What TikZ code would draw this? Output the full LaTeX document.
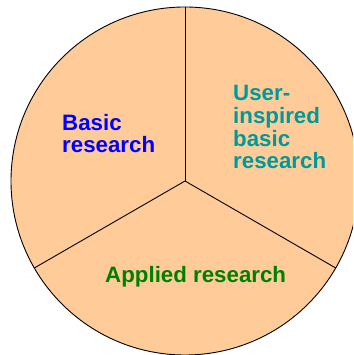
\documentclass[tikz,border=0pt]{standalone}
\usepackage{fontspec}
\setmainfont{Liberation Sans}
\usetikzlibrary{calc}
\definecolor{peach}{RGB}{255,204,153}
\definecolor{tblue}{RGB}{0,0,255}
\definecolor{tteal}{RGB}{0,153,153}
\definecolor{tgreen}{RGB}{0,128,0}
\tikzset{
  lbl/.style={anchor=base west, inner sep=0pt, align=left,
    font=\fontsize{22.3pt}{22.7pt}\selectfont\bfseries},
  divider/.style={draw=black, line width=0.9pt}
}
\begin{document}
\begin{tikzpicture}[x=1pt,y=1pt]
\useasboundingbox (0,0) rectangle (353,355);
\clip (0,0) rectangle (353,355);
\coordinate (c) at (185,174);
\fill[peach] (c) circle (174);
\draw[line width=0.9pt] (c) circle (174);
\coordinate (t) at ($(c)+(90:174)$);
\coordinate (l) at ($(c)+(210:174)$);
\coordinate (r) at ($(c)+(330:174)$);
\draw[divider] (c) -- (t);
\draw[divider] (c) -- (l);
\draw[divider] (c) -- (r);
\node[lbl, text=tblue] (basic) at (62,202) {Basic\\research};
\node[lbl, text=tteal] (user) at (233,186) {User-\\inspired\\basic\\research};
\node[lbl, text=tgreen] (applied) at (105,72) {Applied research};
\end{tikzpicture}
\end{document}
